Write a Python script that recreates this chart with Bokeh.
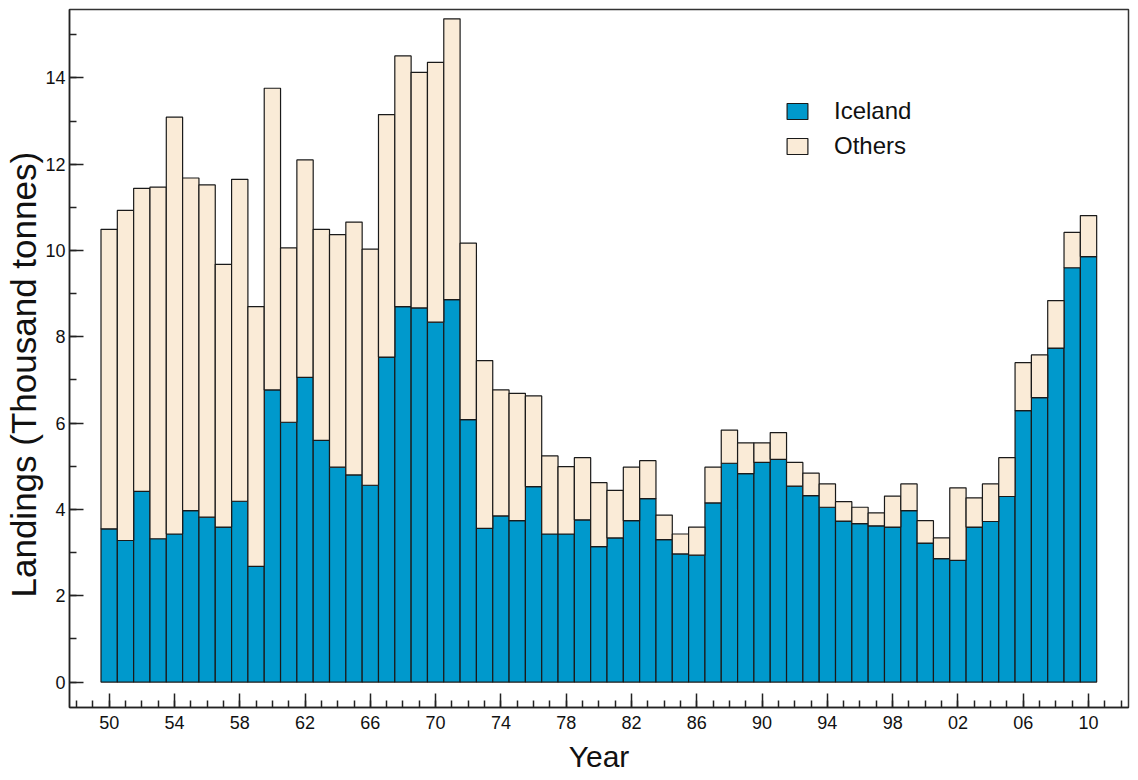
from bokeh.plotting import figure
from bokeh.models import Range1d, FixedTicker, ColumnDataSource, Legend, LegendItem, Title
from bokeh.embed import file_html
from bokeh.resources import INLINE

years = list(range(1950, 2011))
iceland = [3.55, 3.28, 4.42, 3.32, 3.43, 3.97, 3.82, 3.59, 4.19, 2.68,
           6.77, 6.02, 7.06, 5.60, 4.98, 4.80, 4.56, 7.53, 8.70, 8.67,
           8.34, 8.86, 6.08, 3.56, 3.85, 3.74, 4.53, 3.43, 3.43, 3.76,
           3.14, 3.34, 3.74, 4.25, 3.30, 2.97, 2.94, 4.15, 5.07, 4.83,
           5.09, 5.16, 4.54, 4.32, 4.05, 3.73, 3.67, 3.62, 3.59, 3.97,
           3.22, 2.86, 2.82, 3.59, 3.72, 4.30, 6.29, 6.59, 7.74, 9.60,
           9.86]
others = [6.94, 7.65, 7.02, 8.15, 9.66, 7.71, 7.70, 6.09, 7.46, 6.02,
          6.99, 4.04, 5.04, 4.89, 5.39, 5.86, 5.47, 5.62, 5.81, 5.46,
          6.02, 6.51, 4.09, 3.89, 2.92, 2.95, 2.10, 1.81, 1.56, 1.44,
          1.48, 1.10, 1.24, 0.88, 0.57, 0.46, 0.65, 0.83, 0.77, 0.71,
          0.45, 0.62, 0.55, 0.52, 0.54, 0.45, 0.38, 0.30, 0.72, 0.62,
          0.52, 0.48, 1.68, 0.68, 0.87, 0.90, 1.11, 0.99, 1.10, 0.82,
          0.95]
x_ticks = [1950, 1954, 1958, 1962, 1966, 1970, 1974, 1978, 1982, 1986,
           1990, 1994, 1998, 2002, 2006, 2010]
x_tick_labels = ["50", "54", "58", "62", "66", "70", "74", "78", "82", "86",
                 "90", "94", "98", "02", "06", "10"]
x_minor_ticks = list(range(1948, 2013))
y_ticks = [0, 2, 4, 6, 8, 10, 12, 14]
y_minor_ticks = list(range(-1, 17))
series_names = ["Iceland", "Others"]
series_colors = ["#0099CC", "#FAEBD7"]
x_title = "Year"
y_title = "Landings (Thousand tonnes)"

FONT = "Liberation Sans"
INK = "#111111"

source = ColumnDataSource(dict(year=years, Iceland=iceland, Others=others))

p = figure(width=1136, height=780, output_backend="svg", toolbar_location=None,
           x_range=Range1d(1947.57, 2012.45), y_range=Range1d(-0.59, 15.585),
           min_border_left=69, min_border_right=8, min_border_top=9, min_border_bottom=73)

renderers = p.vbar_stack(series_names, x="year", width=1.0, source=source,
                         fill_color=series_colors, line_color="#1a1a1a", line_width=1.2)

p.xgrid.visible = False
p.ygrid.visible = False
p.outline_line_color = "#333333"
p.outline_line_width = 1.5
p.background_fill_color = "white"
p.border_fill_color = "white"

xa = p.xaxis[0]
xa.ticker = FixedTicker(ticks=x_ticks, minor_ticks=x_minor_ticks)
xa.major_label_overrides = {t: l for t, l in zip(x_ticks, x_tick_labels)}
xa.major_label_text_font = FONT
xa.major_label_text_font_size = "18px"
xa.major_label_text_color = INK
xa.major_label_standoff = 8
xa.axis_label = x_title
xa.axis_label_text_font = FONT
xa.axis_label_text_font_size = "30px"
xa.axis_label_text_font_style = "normal"
xa.axis_label_text_color = INK
xa.axis_label_standoff = 8

ya = p.yaxis[0]
ya.ticker = FixedTicker(ticks=y_ticks, minor_ticks=y_minor_ticks)
ya.major_label_text_font = FONT
ya.major_label_text_font_size = "18px"
ya.major_label_text_color = INK
ya.major_label_standoff = 4

for ax in (xa, ya):
    ax.major_tick_in = 14
    ax.major_tick_out = 0
    ax.minor_tick_in = 7
    ax.minor_tick_out = 0
    ax.axis_line_width = 1.5
    ax.major_tick_line_width = 1.5
    ax.minor_tick_line_width = 1.5
    ax.axis_line_color = "#222222"
    ax.major_tick_line_color = "#222222"
    ax.minor_tick_line_color = "#222222"

p.add_layout(Title(text=y_title, align="left", offset=110, standoff=0,
                   text_font=FONT, text_font_size="35px", text_font_style="normal",
                   text_color=INK), "left")

legend = Legend(items=[LegendItem(label=n, renderers=[r]) for n, r in zip(series_names, renderers)],
                location=(715, 547), orientation="vertical")
legend.border_line_alpha = 0
legend.background_fill_alpha = 0
legend.padding = 0
legend.margin = 0
legend.glyph_width = 26
legend.glyph_height = 20
legend.label_standoff = 24
legend.spacing = 7
legend.label_text_font = FONT
legend.label_text_font_size = "24px"
legend.label_text_color = INK
p.add_layout(legend, "center")

open("out.html", "w").write(file_html(p, INLINE))
